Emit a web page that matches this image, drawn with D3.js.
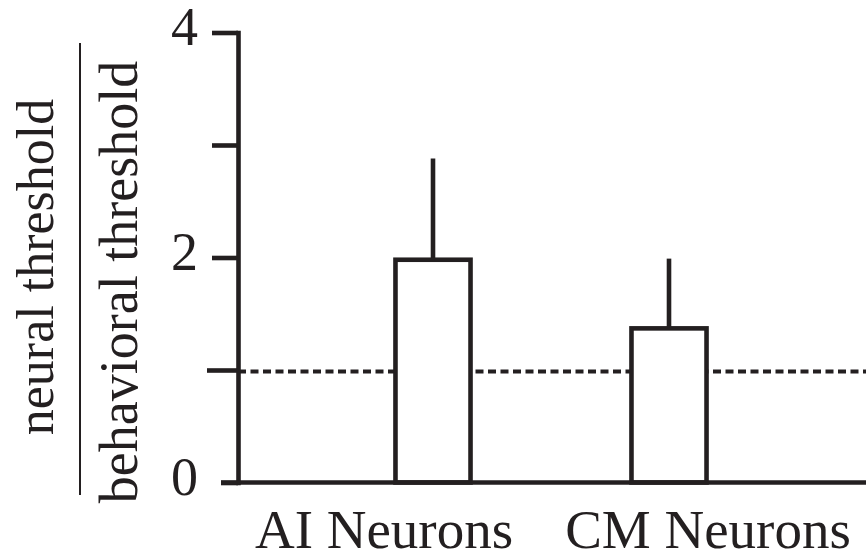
<!DOCTYPE html>
<html>
<head>
<meta charset="utf-8">
<script src="https://cdn.jsdelivr.net/npm/d3@7"></script>
<style>
  body { margin: 0; background: #fff; }
  svg { display: block; }
</style>
</head>
<body>
<div id="chart"></div>
<script>
// data
const categories = ["AI Neurons", "CM Neurons"];
const ratioMean = [1.98, 1.37];
const ratioErrTop = [2.88, 1.99];
const referenceLevel = 1;
const yTicks = [0, 1, 2, 3, 4];
const yLabelled = [0, 2, 4];

const W = 866, H = 557;
const ink = "#231f20";
const font = "'Liberation Serif', 'Times New Roman', serif";

const svg = d3.select("#chart").append("svg")
  .attr("width", W)
  .attr("height", H);

svg.append("rect").attr("width", W).attr("height", H).attr("fill", "#fff");

// scales
const y = d3.scaleLinear().domain([0, 4]).range([482.5, 32.5]);
const x = d3.scaleBand().domain(categories).range([315, 787])
  .paddingInner(0.682).paddingOuter(0.341);
const xLabel = d3.scaleBand().domain(categories).range([222, 870]);
const axisX = 238;

// dashed reference line (behind bars)
svg.append("line")
  .attr("x1", axisX).attr("x2", W)
  .attr("y1", y(referenceLevel) + 1.5).attr("y2", y(referenceLevel) + 1.5)
  .attr("stroke", ink)
  .attr("stroke-width", 4)
  .attr("stroke-dasharray", "8,4.5");

// error bars (upper only)
svg.selectAll(".err")
  .data(categories)
  .enter().append("line")
    .attr("class", "err")
    .attr("x1", d => x(d) + x.bandwidth() / 2)
    .attr("x2", d => x(d) + x.bandwidth() / 2)
    .attr("y1", (d, i) => y(ratioMean[i]))
    .attr("y2", (d, i) => y(ratioErrTop[i]))
    .attr("stroke", ink)
    .attr("stroke-width", 4.6);

// bars
svg.selectAll(".bar")
  .data(categories)
  .enter().append("rect")
    .attr("class", "bar")
    .attr("x", d => x(d))
    .attr("width", x.bandwidth())
    .attr("y", (d, i) => y(ratioMean[i]))
    .attr("height", (d, i) => y(0) - y(ratioMean[i]))
    .attr("fill", "#fff")
    .attr("stroke", ink)
    .attr("stroke-width", 4.6);

// y axis
const gy = svg.append("g")
  .attr("transform", "translate(" + axisX + ",0)")
  .call(d3.axisLeft(y)
    .tickValues(yTicks)
    .tickSize(26)
    .tickSizeOuter(0)
    .tickPadding(14)
    .tickFormat(d => yLabelled.includes(d) ? d : ""));

gy.select(".domain")
  .attr("stroke", ink)
  .attr("stroke-width", 4.6)
  .attr("stroke-linecap", "square");

gy.selectAll(".tick line")
  .attr("stroke", ink)
  .attr("stroke-width", 4.6)
  .attr("x2", d => d === 0 ? -17 : (d === 1 ? -31 : -26));

gy.selectAll(".tick text")
  .attr("fill", ink)
  .attr("x", -40)
  .attr("dy", "0.23em")
  .style("font-family", font)
  .style("font-size", "54px");

// baseline
svg.append("line")
  .attr("x1", 221).attr("x2", W)
  .attr("y1", y(0)).attr("y2", y(0))
  .attr("stroke", ink)
  .attr("stroke-width", 4.6);

// x labels
svg.selectAll(".xlab")
  .data(categories)
  .enter().append("text")
    .attr("class", "xlab")
    .attr("x", d => xLabel(d) + xLabel.bandwidth() / 2)
    .attr("y", 548)
    .attr("text-anchor", "middle")
    .attr("fill", ink)
    .style("font-family", font)
    .style("font-size", "55px")
    .text(d => d);

// y title as a fraction
svg.append("text")
  .attr("transform", "translate(53,267) rotate(-90)")
  .attr("text-anchor", "middle")
  .attr("fill", ink)
  .style("font-family", font)
  .style("font-size", "52px")
  .text("neural threshold");

svg.append("line")
  .attr("x1", 80).attr("x2", 80)
  .attr("y1", 43).attr("y2", 495)
  .attr("stroke", ink)
  .attr("stroke-width", 2);

svg.append("text")
  .attr("transform", "translate(137,282) rotate(-90)")
  .attr("text-anchor", "middle")
  .attr("fill", ink)
  .style("font-family", font)
  .style("font-size", "54px")
  .text("behavioral threshold");
</script>
</body>
</html>
